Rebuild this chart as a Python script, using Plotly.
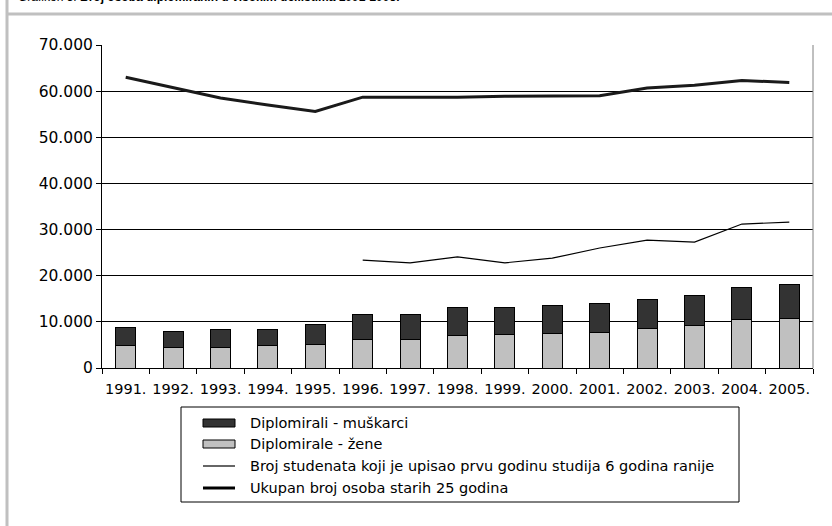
import plotly.graph_objects as go

years = ["1991.", "1992.", "1993.", "1994.", "1995.", "1996.", "1997.", "1998.",
         "1999.", "2000.", "2001.", "2002.", "2003.", "2004.", "2005."]
zene = [4800, 4500, 4500, 4800, 5100, 6100, 6100, 7100, 7300, 7500, 7700, 8500, 9200, 10500, 10800]
muskarci = [4000, 3450, 3900, 3600, 4400, 5400, 5400, 6100, 5900, 6100, 6200, 6400, 6600, 7000, 7400]
upisani = [None, None, None, None, None, 23400, 22800, 24100, 22800, 23800, 26000, 27700, 27300, 31200, 31600]
ukupno = [63000, 60700, 58500, 57000, 55600, 58700, 58700, 58700, 58900, 59000, 59000, 60700, 61300, 62300, 61900]
y_ticks = [0, 10000, 20000, 30000, 40000, 50000, 60000, 70000]

names = ["Diplomirali - muškarci", "Diplomirale - žene",
         "Broj studenata koji je upisao prvu godinu studija 6 godina ranije",
         "Ukupan broj osoba starih 25 godina"]
title_a = "Grafikon 3. "
title_b = "Broj osoba diplomiranih u visokim učilištima 1991-2005."

FONT = "DejaVu Sans"
W, H = 832, 526
L, R, T, B = 102, 19, 45, 158
PW, PH = W - L - R, H - T - B

def px(x):
    return (x - L) / PW

def py(y):
    return (H - B - y) / PH

fig = go.Figure()
fig.add_trace(go.Bar(x=years, y=zene, name=names[1], marker=dict(color="#c0c0c0", line=dict(color="#000000", width=1)), width=0.42))
fig.add_trace(go.Bar(x=years, y=muskarci, name=names[0], marker=dict(color="#333333", line=dict(color="#000000", width=1)), width=0.42))
fig.add_trace(go.Scatter(x=years, y=upisani, name=names[2], mode="lines", line=dict(color="#000000", width=1.2)))
fig.add_trace(go.Scatter(x=years, y=ukupno, name=names[3], mode="lines", line=dict(color="#1a1a1a", width=3)))

shapes = []
# outer gray frame
shapes.append(dict(type="line", xref="paper", yref="paper", x0=px(7), x1=px(7), y0=py(0), y1=py(526), line=dict(color="#c0c0c0", width=3)))
shapes.append(dict(type="line", xref="paper", yref="paper", x0=px(6), x1=px(832), y0=py(14), y1=py(14), line=dict(color="#c0c0c0", width=3)))
# plot area right border
shapes.append(dict(type="line", xref="paper", yref="paper", x0=1, x1=1, y0=0, y1=1, line=dict(color="#808080", width=1)))
# legend box
shapes.append(dict(type="rect", xref="paper", yref="paper", x0=px(181), x1=px(739), y0=py(407), y1=py(502), line=dict(color="#000000", width=1), fillcolor="rgba(0,0,0,0)"))

rows = [423, 444, 466, 488]
annotations = []
for i, nm in enumerate(names):
    yc = rows[i]
    if i < 2:
        shapes.append(dict(type="rect", xref="paper", yref="paper", x0=px(203), x1=px(235), y0=py(yc - 4), y1=py(yc + 4),
                           fillcolor="#333333" if i == 0 else "#c0c0c0", line=dict(color="#000000", width=1)))
    else:
        shapes.append(dict(type="line", xref="paper", yref="paper", x0=px(203), x1=px(235), y0=py(yc), y1=py(yc),
                           line=dict(color="#000000", width=1.2 if i == 2 else 3)))
    annotations.append(dict(xref="paper", yref="paper", x=px(248), y=py(yc), xanchor="left", yanchor="middle",
                            text=nm, showarrow=False, font=dict(family=FONT, size=14.5, color="#000000")))

annotations.append(dict(xref="paper", yref="paper", x=px(16), y=py(6), xanchor="left", yanchor="bottom",
                        text=title_a + "<b>" + title_b + "</b>", showarrow=False,
                        font=dict(family="Liberation Sans", size=12, color="#000000")))

fig.update_layout(
    width=W, height=H,
    margin=dict(l=L, r=R, t=T, b=B, pad=0),
    paper_bgcolor="#ffffff", plot_bgcolor="#ffffff",
    barmode="stack", bargap=0.58,
    showlegend=False,
    separators=",.",
    font=dict(family=FONT, size=15, color="#000000"),
    shapes=shapes, annotations=annotations,
    xaxis=dict(type="category", showgrid=False, showline=True, linecolor="#000000", linewidth=1,
               ticks="outside", ticklen=5, tickcolor="#000000", tickson="boundaries", tickangle=0,
               ticklabelstandoff=8,
               tickfont=dict(family=FONT, size=14.5), range=[-0.5, 14.5], automargin=False),
    yaxis=dict(range=[0, 70000], tickvals=y_ticks, tickformat=",d", showgrid=True, gridcolor="#000000", gridwidth=1,
               showline=True, linecolor="#000000", linewidth=1, ticks="outside", ticklen=5, tickcolor="#000000",
               tickfont=dict(family=FONT, size=15.5), zeroline=False, automargin=False),
)

fig.write_html("out.html", config={"displayModeBar": False},
               post_script="document.body.style.margin='0';document.body.style.padding='0';")
